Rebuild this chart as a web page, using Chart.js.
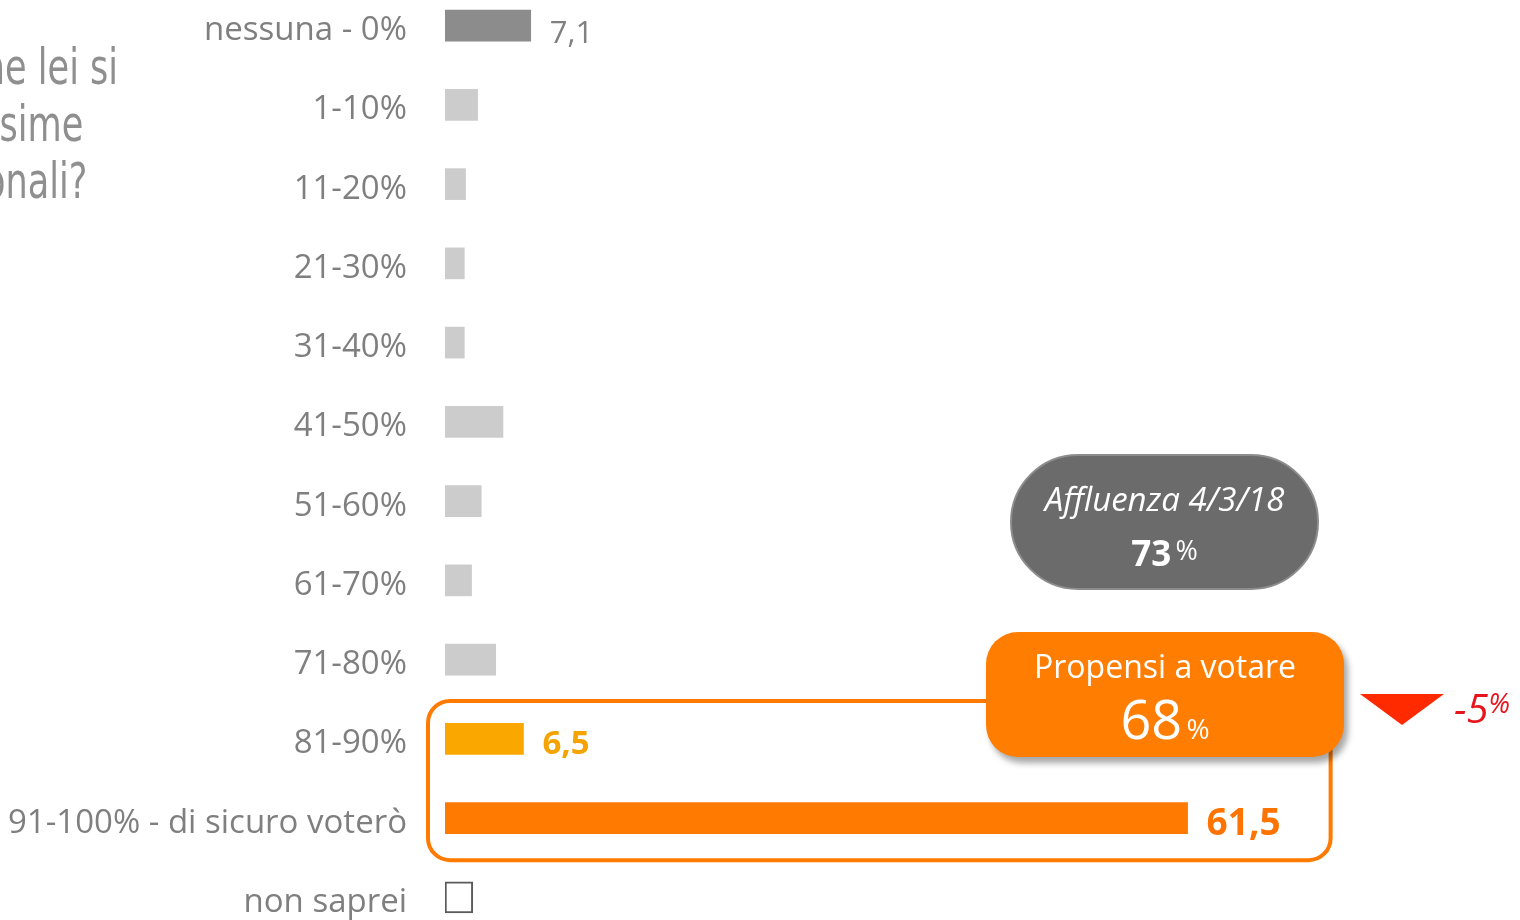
<!DOCTYPE html>
<html>
<head>
<meta charset="utf-8">
<script src="https://cdn.jsdelivr.net/npm/chart.js@4.4.1/dist/chart.umd.min.js"></script>
<style>
  html, body { margin:0; padding:0; width:1520px; height:920px; overflow:hidden; background:#fff; }
  #wrap { position:absolute; left:0; top:-14px; width:1520px; height:951px; }
  .q { position:absolute; font-family:"Liberation Sans Narrow","DejaVu Sans Condensed",sans-serif; color:#8f8f8f; font-size:50px; white-space:nowrap; transform-origin:right center; transform:scaleX(0.78); text-align:right; }
  .pill { position:absolute; left:1010px; top:454px; width:305px; height:132px; background:#6b6b6b; border:2px solid #8d8d8d; border-radius:68px; color:#fff; font-family:"Open Sans",sans-serif; text-align:center; }
  .callout { position:absolute; left:986px; top:632px; width:358px; height:125px; background:#ff7d00; border-radius:32px; color:#fff; font-family:"Open Sans",sans-serif; text-align:center; box-shadow:4px 6px 6px rgba(0,0,0,0.35); }
  .tri { position:absolute; left:1360px; top:694px; width:0; height:0; border-left:42px solid transparent; border-right:42px solid transparent; border-top:31px solid #ff2a00; }
  .delta { position:absolute; left:1454px; top:680px; color:#e8141c; font-family:"Open Sans",sans-serif; font-style:italic; white-space:nowrap; }
</style>
</head>
<body>
<div id="wrap"><canvas id="c"></canvas></div>

<div class="q" style="right:1402px; top:38px;">Con quale probabilità che lei si</div>
<div class="q" style="right:1437px; top:95px;">andrà a votare alle prossime</div>
<div class="q" style="right:1433px; top:152px;">elezioni regionali?</div>

<div class="pill">
  <div style="font-style:italic; font-size:33px; margin-top:23px; line-height:40px;">Affluenza 4/3/18</div>
  <div style="line-height:44px; margin-top:9px;"><span style="font-weight:700; font-size:35px;">73</span>&nbsp;<span style="font-size:27px; vertical-align:6px;">%</span></div>
</div>

<div class="callout">
  <div style="font-size:32px; margin-top:14px; line-height:40px;">Propensi a votare</div>
  <div style="line-height:60px; margin-top:2px;"><span style="font-size:54px;">68</span> <span style="font-size:28px;">%</span></div>
</div>

<div class="tri"></div>
<div class="delta"><span style="font-size:40px;">-5</span><span style="font-size:27px; vertical-align:10px;">%</span></div>

<script>
const categories = ["nessuna - 0%", "1-10%", "11-20%", "21-30%", "31-40%", "41-50%", "51-60%", "61-70%", "71-80%", "81-90%", "91-100% - di sicuro voterò", "non saprei"];
const values = [7.1, 2.7, 1.7, 1.6, 1.6, 4.8, 3.0, 2.2, 4.2, 6.5, 61.5, 2.3];
const barColors = ["#8c8c8c", "#cccccc", "#cccccc", "#cccccc", "#cccccc", "#cccccc", "#cccccc", "#cccccc", "#cccccc", "#faa800", "#ff7a00", "#ffffff"];
const borderColors = ["#8c8c8c", "#cccccc", "#cccccc", "#cccccc", "#cccccc", "#cccccc", "#cccccc", "#cccccc", "#cccccc", "#faa800", "#ff7a00", "#5a5a5a"];
const borderWidths = [0, 0, 0, 0, 0, 0, 0, 0, 0, 0, 0, 2];
const shownLabels = [0, 9, 10];
const labelColors = {0: "#808080", 9: "#f5a300", 10: "#ff7400"};
const labelFonts = {0: "400 31px 'Open Sans'", 9: "700 33px 'Open Sans'", 10: "700 37px 'Open Sans'"};
const labelDy = {0: 9, 9: 6, 10: 6};
const frameRows = [9, 10];

const fmt = v => String(v).replace('.', ',');

const valueLabelPlugin = {
  id: 'valueLabels',
  afterDatasetsDraw(chart) {
    const ctx = chart.ctx;
    const meta = chart.getDatasetMeta(0);
    ctx.save();
    ctx.textBaseline = 'middle';
    ctx.textAlign = 'left';
    shownLabels.forEach(i => {
      const el = meta.data[i];
      ctx.font = labelFonts[i];
      ctx.fillStyle = labelColors[i];
      ctx.fillText(fmt(values[i]), el.x + 19, el.y + labelDy[i]);
    });
    ctx.restore();
  }
};

const framePlugin = {
  id: 'frame',
  beforeDatasetsDraw(chart) {
    const ctx = chart.ctx;
    const xs = chart.scales.x, ys = chart.scales.y;
    const l = xs.getPixelForValue(0) - 17;
    const r = xs.getPixelForValue(values[frameRows[1]]) + 143;
    const t = ys.getPixelForValue(frameRows[0]) - 38;
    const b = ys.getPixelForValue(frameRows[1]) + 42;
    ctx.save();
    ctx.strokeStyle = '#ff7a00';
    ctx.lineWidth = 4;
    ctx.beginPath();
    ctx.roundRect(l, t, r - l, b - t, 22);
    ctx.stroke();
    ctx.restore();
  }
};

new Chart(document.getElementById('c'), {
  type: 'bar',
  data: {
    labels: categories,
    datasets: [{
      data: values,
      backgroundColor: barColors,
      borderColor: borderColors,
      borderWidth: borderWidths,
      borderSkipped: false,
      barThickness: 31
    }]
  },
  options: {
    indexAxis: 'y',
    responsive: true,
    maintainAspectRatio: false,
    animation: false,
    layout: { padding: { left: 0, right: 109, top: 0, bottom: 0 } },
    plugins: { legend: { display: false }, tooltip: { enabled: false } },
    scales: {
      x: { display: false, min: 0, max: 80 },
      y: {
        grid: { display: false, drawTicks: false },
        border: { display: false },
        ticks: { color: '#7f7f7f', font: { family: "'Open Sans'", size: 33 }, padding: 38, labelOffset: 5 },
        afterFit(axis) { axis.width = 445; axis.paddingTop = 0; axis.paddingBottom = 0; }
      }
    }
  },
  plugins: [valueLabelPlugin, framePlugin]
});
</script>
</body>
</html>
